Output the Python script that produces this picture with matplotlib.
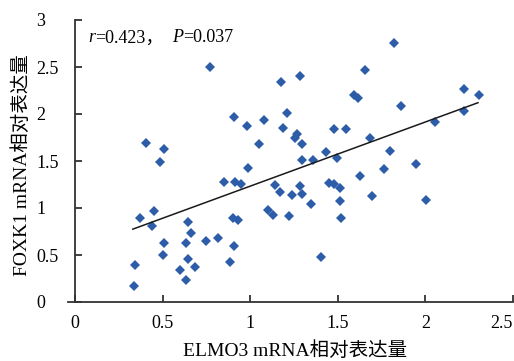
import numpy as np
import matplotlib
matplotlib.use("Agg")
import matplotlib.pyplot as plt

# ELMO3 (x) vs FOXK1 (y) relative mRNA expression
elmo3 = [0.343, 0.339, 0.371, 0.451, 0.442, 0.509, 0.503, 0.600, 0.632, 0.644,
         0.661, 0.644, 0.634, 0.686, 0.747, 0.819, 0.851, 0.886, 0.905, 0.901,
         0.933, 0.914, 0.947, 0.771, 0.404, 0.510, 0.486, 0.905, 0.981, 0.990,
         1.051, 1.076, 1.099, 1.130, 1.219, 1.175, 1.286, 1.210, 1.190, 1.267,
         1.257, 1.295, 1.295, 1.356, 1.434, 1.495, 1.480, 1.549, 1.143, 1.171,
         1.238, 1.286, 1.295, 1.347, 1.448, 1.480, 1.514, 1.510, 1.520, 1.404,
         1.625, 1.695, 1.766, 1.800, 1.949, 2.004, 2.053, 2.219, 2.219, 2.307,
         1.863, 1.819, 1.653, 1.590, 1.615, 1.686]
foxk1 = [0.39, 0.17, 0.89, 0.97, 0.81, 0.63, 0.50, 0.34, 0.63, 0.85,
         0.73, 0.46, 0.23, 0.37, 0.65, 0.68, 1.28, 0.43, 0.60, 0.89,
         0.87, 1.28, 1.26, 2.50, 1.69, 1.63, 1.49, 1.97, 1.87, 1.43,
         1.68, 1.94, 0.98, 0.93, 0.91, 2.34, 2.40, 2.01, 1.85, 1.79,
         1.74, 1.68, 1.51, 1.51, 1.60, 1.53, 1.84, 1.84, 1.24, 1.17,
         1.14, 1.23, 1.15, 1.04, 1.27, 1.26, 1.21, 1.07, 0.89, 0.48,
         1.34, 1.13, 1.41, 1.61, 1.47, 1.085, 1.92, 2.035, 2.27, 2.20,
         2.085, 2.76, 2.47, 2.20, 2.17, 1.75]

# linear trend line (end points as drawn)
trend_x = [0.33, 2.30]
trend_y = [0.775, 2.12]

xticks = [0, 0.5, 1, 1.5, 2, 2.5]
yticks = [0, 0.5, 1, 1.5, 2, 2.5, 3]
xlabel = "ELMO3 mRNA相对表达量"
ylabel = "FOXK1 mRNA相对表达量"
stat_parts = [("r", "italic"), ("=0.423，", "normal"), ("P", "italic"), ("=0.037", "normal")]

fonts = ["Liberation Serif", "Noto Sans CJK SC"]
plt.rcParams["font.family"] = fonts

W, H = 514, 361
fig = plt.figure(figsize=(W / 100, H / 100), dpi=100)
ax = fig.add_axes([68 / W, 1 - 302 / H, (513 - 68) / W, 282 / H])

ax.plot(elmo3, foxk1, linestyle="none", marker="D", markersize=4.8,
        color="#2D5DA8", markeredgewidth=0)
ax.plot(trend_x, trend_y, color="#1a1a1a", linewidth=1.1)

ax.set_xlim(-0.04, 2.5)
ax.set_ylim(0, 3)
ax.spines["left"].set_position(("data", 0))
ax.spines["top"].set_visible(False)
ax.spines["right"].set_visible(False)
for s in ["left", "bottom"]:
    ax.spines[s].set_color("#333333")
    ax.spines[s].set_linewidth(1.3)

ax.set_xticks(xticks)
ax.set_xticklabels([f"{v:g}" for v in xticks])
ax.set_yticks(yticks)
ax.set_yticklabels([f"{v:g}" for v in yticks])
ax.tick_params(axis="both", direction="in", length=5, width=1.3, color="#333333",
               labelsize=13)
ax.tick_params(axis="x", pad=9)
ax.tick_params(axis="y", pad=28)
for lbl in ax.get_yticklabels():
    lbl.set_ha("left")
ax.get_xticklabels()[-1].set_ha("right")

# axis titles
fig.text(295 / W, 1 - 351 / H, xlabel, fontsize=14, ha="center", va="center")
fig.text(22 / W, 1 - 165 / H, ylabel, fontsize=14, ha="center", va="center",
         rotation=90)

# r / P annotation, chained piece by piece
prev = ax.text(0.074, 2.72, stat_parts[0][0], fontsize=13, style=stat_parts[0][1],
               va="bottom")
for txt, st in stat_parts[1:]:
    gap = 6 if txt == "P" else 0
    prev = ax.annotate(txt, xy=(1, 0), xycoords=prev, xytext=(gap, 0),
                       textcoords="offset points", fontsize=13, style=st,
                       va="bottom")

fig.savefig("out.png", dpi=100)
